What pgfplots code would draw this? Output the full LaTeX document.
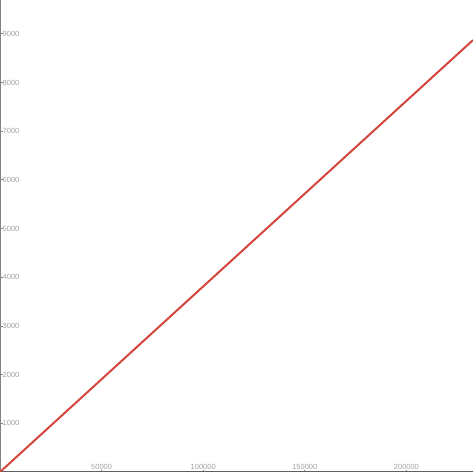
\documentclass[border=0pt]{standalone}
\usepackage{fontspec}
\setmainfont{Liberation Sans}
\usepackage{pgfplots}
\pgfplotsset{compat=1.18}

\definecolor{linered}{RGB}{210,70,62}
\definecolor{ticktext}{RGB}{160,160,160}
\definecolor{xaxis}{RGB}{95,95,95}
\definecolor{yaxis}{RGB}{130,130,130}

\begin{document}
\begin{tikzpicture}
  \begin{axis}[
    name=ax,
    scale only axis,
    width=473bp,
    height=472bp,
    xmin=0, xmax=232770,
    ymin=0, ymax=9695,
    axis lines=left,
    x axis line style={-, draw=xaxis, line width=1.2bp},
    y axis line style={-, draw=yaxis, line width=1.2bp},
    xtick={50000,100000,150000,200000},
    xticklabels={50000,100000,150000,200000},
    ytick={1000,2000,3000,4000,5000,6000,7000,8000,9000},
    yticklabels={1000,2000,3000,4000,5000,6000,7000,8000,9000},
    scaled x ticks=false,
    scaled y ticks=false,
    major tick length=2.5bp,
    tick style={draw=yaxis, line width=0.8bp},
    tick align=inside,
    tick label style={font=\fontsize{7.5}{8}\selectfont, text=ticktext, inner sep=0pt},
    xticklabel style={anchor=south, yshift=2.5bp},
    yticklabel style={anchor=west, xshift=2.5bp},
    clip=true,
  ]
    % single straight series
    \addplot[linered, line width=2bp] coordinates {
      (0,0)
      (232770,8872)
    };
  \end{axis}
  \pgfresetboundingbox
  \path (ax.south west) rectangle (ax.north east);
\end{tikzpicture}
\end{document}
